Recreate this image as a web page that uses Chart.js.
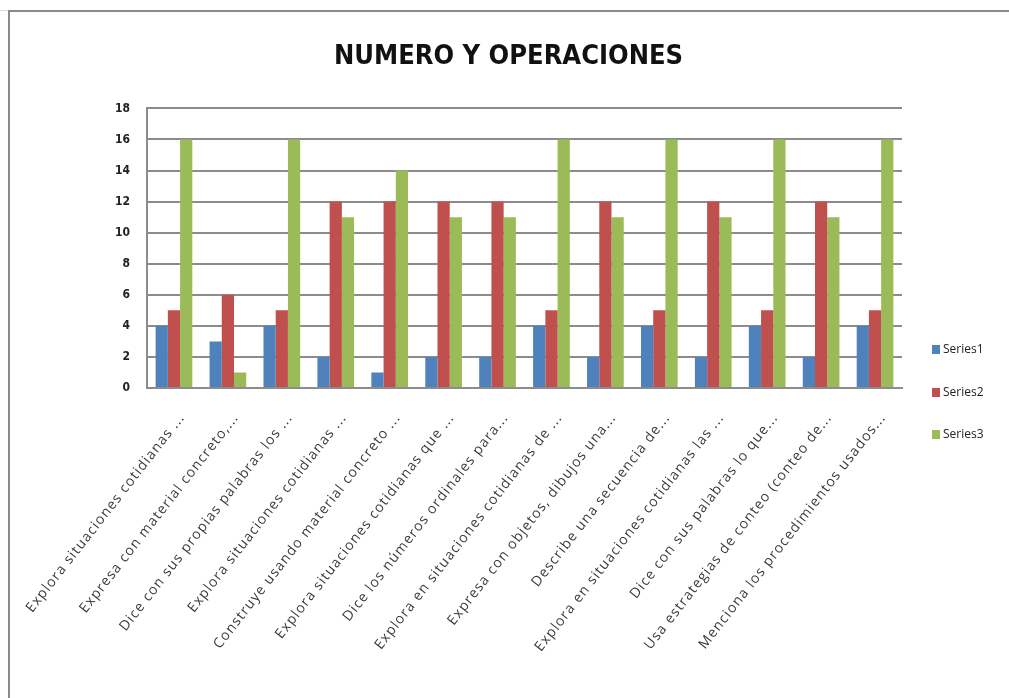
<!DOCTYPE html>
<html>
<head>
<meta charset="utf-8">
<script src="https://cdn.jsdelivr.net/npm/chart.js@4"></script>
<style>
    body { margin: 0; background: #fff; width: 1009px; height: 698px; overflow: hidden; position: relative; }
    /* Hintergrund der Tabelle */
    .sheet { position: absolute; left: 0; top: 0; width: 1009px; height: 10px; border-bottom: 1px solid #d8d8d8; }
    .frame { position: absolute; left: 8px; top: 10px; width: 1001px; height: 688px;
             border-left: 2px solid #8a8a8a; border-top: 2px solid #8a8a8a; box-sizing: border-box; }
    #wrap { position: absolute; left: 8px; top: 10px; width: 1001px; height: 688px; }
    .legend { position: absolute; left: 932px; top: 340px; font-family: "Open Sans", sans-serif; font-size: 12px; color: #222; }
    .legend div { height: 42.5px; display: flex; align-items: flex-start; }
    .legend i { display: inline-block; width: 8px; height: 9px; margin-right: 3px; margin-top: 5px; }
</style>
</head>
<body>
<div class="sheet"></div>
<div class="frame"></div>
<div id="wrap"><canvas id="chart" width="1001" height="688"></canvas></div>
<div class="legend" id="legend"></div>
<script>
// Kategorien (Achsenbeschriftung)
const categories = [
    'Explora situaciones cotidianas ...',
    'Expresa con material concreto,...',
    'Dice con sus propias palabras los ...',
    'Explora situaciones cotidianas ...',
    'Construye usando material concreto ...',
    'Explora situaciones cotidianas que ...',
    'Dice los números ordinales para...',
    'Explora en situaciones cotidianas de ...',
    'Expresa con objetos, dibujos una...',
    'Describe una secuencia de...',
    'Explora en situaciones cotidianas las ...',
    'Dice con sus palabras lo que...',
    'Usa estrategias de conteo (conteo de...',
    'Menciona los procedimientos usados...'
];

// Werte der Serien
const series1 = [4, 3, 4, 2, 1, 2, 2, 4, 2, 4, 2, 4, 2, 4];
const series2 = [5, 6, 5, 12, 12, 12, 12, 5, 12, 5, 12, 5, 12, 5];
const series3 = [16, 1, 16, 11, 14, 11, 11, 16, 11, 16, 11, 16, 11, 16];

const seriesNames = ['Series1', 'Series2', 'Series3'];
const seriesColors = ['#4F81BD', '#C0504D', '#9BBB59'];
const yTicks = [0, 2, 4, 6, 8, 10, 12, 14, 16, 18];

// Legende als HTML
const legendEl = document.getElementById('legend');
seriesNames.forEach(function(name, i) {
    const row = document.createElement('div');
    row.innerHTML = '<i style="background:' + seriesColors[i] + '"></i>' + name;
    legendEl.appendChild(row);
});

// Etwas Zeichenabstand nur für die x-Beschriftung (Excel-Optik)
const xLabelSpacing = {
    id: 'xLabelSpacing',
    beforeDraw: function(chart) {
        const scale = chart.scales.x;
        if (scale._spaced) return;
        const orig = scale.drawLabels;
        scale.drawLabels = function(area) {
            const c = chart.ctx;
            c.save();
            c.letterSpacing = '1.1px';
            orig.call(this, area);
            c.restore();
        };
        scale._spaced = true;
    }
};

const ctx = document.getElementById('chart').getContext('2d');
new Chart(ctx, {
    type: 'bar',
    data: {
        labels: categories,
        datasets: [series1, series2, series3].map(function(values, i) {
            return {
                label: seriesNames[i],
                data: values,
                backgroundColor: seriesColors[i],
                borderWidth: 0,
                categoryPercentage: 0.68,
                barPercentage: 1.0
            };
        })
    },
    plugins: [xLabelSpacing],
    options: {
        responsive: false,
        animation: false,
        layout: { padding: { left: 107, right: 107, top: 0, bottom: 0 } },
        plugins: {
            legend: { display: false },
            tooltip: { enabled: false },
            title: {
                display: true,
                text: 'NUMERO Y OPERACIONES',
                color: '#111',
                font: { family: 'DejaVu Sans Condensed', size: 27, weight: 'bold' },
                padding: { top: 31, bottom: 35 }
            }
        },
        scales: {
            y: {
                min: 0,
                max: 18,
                afterBuildTicks: function(scale) {
                    scale.ticks = yTicks.map(function(v) { return { value: v }; });
                },
                afterFit: function(scale) { scale.width = 32; },
                ticks: {
                    color: '#222',
                    padding: 17,
                    font: { family: 'DejaVu Sans Condensed', size: 12, weight: 'bold' }
                },
                grid: { color: '#8c8c8c', lineWidth: 2, drawTicks: false },
                border: { color: '#8c8c8c', width: 2 }
            },
            x: {
                afterFit: function(scale) { scale.height = 310; },
                ticks: {
                    color: '#3a3a3a',
                    minRotation: 52,
                    maxRotation: 52,
                    autoSkip: false,
                    padding: 14,
                    labelOffset: 8,
                    font: { family: 'Open Sans', size: 14 }
                },
                grid: { display: false },
                border: { color: '#8c8c8c', width: 2 }
            }
        }
    }
});
</script>
</body>
</html>
